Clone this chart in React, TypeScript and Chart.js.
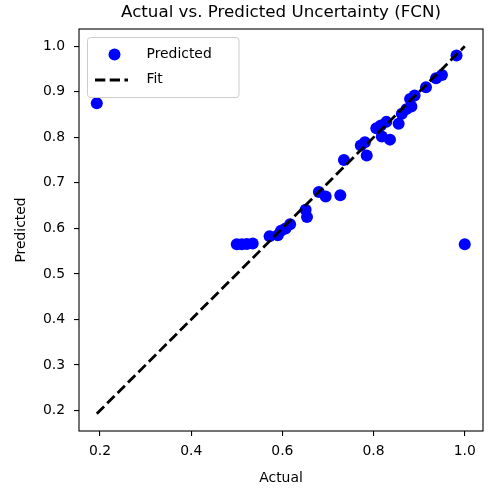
import React, { useEffect, useRef } from "react";
import { Chart, registerables } from "chart.js";

Chart.register(...registerables);

const TITLE = "Actual vs. Predicted Uncertainty (FCN)";
const X_LABEL = "Actual";
const Y_LABEL = "Predicted";
const LEGEND_LABELS = ["Predicted", "Fit"];

const ACTUAL = [
  0.193, 0.5, 0.511, 0.522, 0.535, 0.572, 0.59, 0.597, 0.607, 0.617,
  0.651, 0.654, 0.68, 0.695, 0.727, 0.735, 0.772, 0.781, 0.785, 0.806,
  0.816, 0.828, 0.818, 0.836, 0.855, 0.862, 0.872, 0.883, 0.88, 0.89,
  0.915, 0.937, 0.95, 0.982, 1.0,
];
const PREDICTED = [
  0.875, 0.565, 0.565, 0.566, 0.567, 0.583, 0.585, 0.595, 0.6, 0.609,
  0.641, 0.625, 0.68, 0.67, 0.673, 0.75, 0.782, 0.789, 0.76, 0.82,
  0.826, 0.834, 0.802, 0.795, 0.83, 0.852, 0.862, 0.868, 0.884, 0.892,
  0.91, 0.93, 0.937, 0.98, 0.565,
];
const FIT_X = [0.193, 1.0];
const FIT_Y = [0.193, 1.0];
const X_TICKS = [0.2, 0.4, 0.6, 0.8, 1.0];
const Y_TICKS = [0.2, 0.3, 0.4, 0.5, 0.6, 0.7, 0.8, 0.9, 1.0];

const FONT = "'DejaVu Sans', sans-serif";

export default function App() {
  const ref = useRef<HTMLCanvasElement | null>(null);

  useEffect(() => {
    const canvas = ref.current;
    if (!canvas) return;

    const overlay = {
      id: "overlay",
      afterDraw(chart: any) {
        const ctx = chart.ctx;
        const a = chart.chartArea;
        ctx.save();
        // frame
        ctx.strokeStyle = "#000";
        ctx.lineWidth = 1.1;
        ctx.strokeRect(a.left, a.top, a.right - a.left, a.bottom - a.top);

        // title
        ctx.fillStyle = "#000";
        ctx.font = `16.7px ${FONT}`;
        ctx.textAlign = "center";
        ctx.textBaseline = "alphabetic";
        ctx.fillText(TITLE, (a.left + a.right) / 2, 17);

        // axis labels
        ctx.font = `13.9px ${FONT}`;
        ctx.fillText(X_LABEL, (a.left + a.right) / 2, 482);
        ctx.save();
        ctx.translate(25, (a.top + a.bottom) / 2);
        ctx.rotate(-Math.PI / 2);
        ctx.fillText(Y_LABEL, 0, 0);
        ctx.restore();

        // legend
        const lx = a.left + 8.5;
        const ly = a.top + 8.5;
        const lw = 151.5;
        const lh = 60;
        const r = 3;
        ctx.beginPath();
        ctx.moveTo(lx + r, ly);
        ctx.lineTo(lx + lw - r, ly);
        ctx.arcTo(lx + lw, ly, lx + lw, ly + r, r);
        ctx.lineTo(lx + lw, ly + lh - r);
        ctx.arcTo(lx + lw, ly + lh, lx + lw - r, ly + lh, r);
        ctx.lineTo(lx + r, ly + lh);
        ctx.arcTo(lx, ly + lh, lx, ly + lh - r, r);
        ctx.lineTo(lx, ly + r);
        ctx.arcTo(lx, ly, lx + r, ly, r);
        ctx.closePath();
        ctx.fillStyle = "rgba(255,255,255,0.8)";
        ctx.fill();
        ctx.strokeStyle = "#cccccc";
        ctx.lineWidth = 1;
        ctx.stroke();

        ctx.fillStyle = "#0000ff";
        ctx.beginPath();
        ctx.arc(lx + 27, ly + 17, 6, 0, Math.PI * 2);
        ctx.fill();

        ctx.strokeStyle = "#000";
        ctx.lineWidth = 2.8;
        ctx.setLineDash([10.3, 4.4]);
        ctx.beginPath();
        ctx.moveTo(lx + 7.5, ly + 42.5);
        ctx.lineTo(lx + 40.5, ly + 42.5);
        ctx.stroke();
        ctx.setLineDash([]);

        ctx.fillStyle = "#000";
        ctx.font = `13.9px ${FONT}`;
        ctx.textAlign = "left";
        ctx.textBaseline = "middle";
        ctx.fillText(LEGEND_LABELS[0], lx + 59, ly + 16.5);
        ctx.fillText(LEGEND_LABELS[1], lx + 59, ly + 42);
        ctx.restore();
      },
    };

    const chart = new Chart(canvas, {
      type: "scatter",
      data: {
        datasets: [
          {
            type: "line",
            label: LEGEND_LABELS[1],
            data: FIT_X.map((x, i) => ({ x, y: FIT_Y[i] })),
            borderColor: "#000",
            borderWidth: 2.8,
            borderDash: [10.3, 4.4],
            pointRadius: 0,
            fill: false,
            order: 1,
          } as any,
          {
            type: "scatter",
            label: LEGEND_LABELS[0],
            data: ACTUAL.map((x, i) => ({ x, y: PREDICTED[i] })),
            backgroundColor: "#0000ff",
            borderWidth: 0,
            pointRadius: 6,
            order: 2,
          },
        ],
      },
      options: {
        responsive: false,
        animation: false,
        layout: { padding: { top: 29, right: 6, left: 0, bottom: 0 } },
        plugins: {
          legend: { display: false },
          tooltip: { enabled: false },
          title: { display: false },
        },
        scales: {
          x: {
            type: "linear",
            min: 0.154,
            max: 1.04,
            afterFit: (s: any) => {
              s.height = 59;
            },
            afterBuildTicks: (s: any) => {
              s.ticks = X_TICKS.map((v) => ({ value: v }));
            },
            ticks: {
              color: "#000",
              font: { family: FONT, size: 13.9 },
              padding: 7,
              maxRotation: 0,
              callback: (v: any) => Number(v).toFixed(1),
            },
            grid: {
              display: true,
              drawOnChartArea: false,
              drawTicks: true,
              tickLength: 5,
              color: "#000",
              lineWidth: 1.1,
            },
            border: { display: false },
          },
          y: {
            type: "linear",
            min: 0.155,
            max: 1.038,
            afterFit: (s: any) => {
              s.width = 79;
            },
            afterBuildTicks: (s: any) => {
              s.ticks = Y_TICKS.map((v) => ({ value: v }));
            },
            ticks: {
              color: "#000",
              font: { family: FONT, size: 13.9 },
              padding: 9,
              callback: (v: any) => Number(v).toFixed(1),
            },
            grid: {
              display: true,
              drawOnChartArea: false,
              drawTicks: true,
              tickLength: 5,
              color: "#000",
              lineWidth: 1.1,
            },
            border: { display: false },
          },
        },
      },
      plugins: [overlay],
    });

    return () => chart.destroy();
  }, []);

  return (
    <div style={{ position: "absolute", left: 0, top: 0, width: 489, height: 490, background: "#fff" }}>
      <canvas ref={ref} width={489} height={490} style={{ display: "block" }} />
    </div>
  );
}
